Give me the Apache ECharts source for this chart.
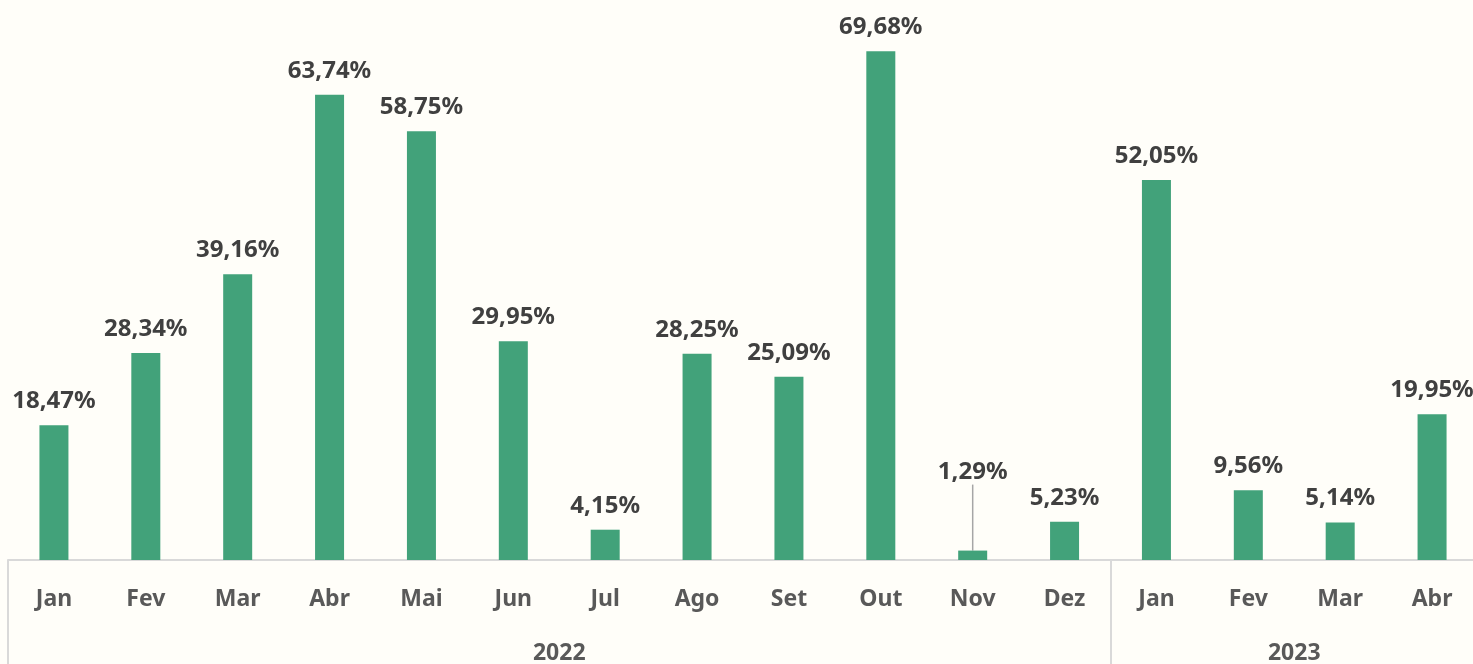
<!DOCTYPE html>
<html>
<head>
<meta charset="utf-8">
<script src="https://cdn.jsdelivr.net/npm/echarts@6/dist/echarts.min.js"></script>
<style>
    html, body { margin: 0; padding: 0; background: #fffef9; }
    #chart { width: 1473px; height: 664px; }
</style>
</head>
<body>
<div id="chart"></div>
<script>
    // meses (2022: Jan..Dez, 2023: Jan..Abr)
    const months = ['Jan', 'Fev', 'Mar', 'Abr', 'Mai', 'Jun', 'Jul', 'Ago', 'Set', 'Out', 'Nov', 'Dez', 'Jan', 'Fev', 'Mar', 'Abr']
    const values = [18.47, 28.34, 39.16, 63.74, 58.75, 29.95, 4.15, 28.25, 25.09, 69.68, 1.29, 5.23, 52.05, 9.56, 5.14, 19.95]
    const years = ['2022', '2023']
    const yearBounds = [0, 12, 16]   // divisórias entre os anos
    const yearCenters = [6, 14]

    const fontFamily = '"Noto Sans", "Open Sans", sans-serif'

    let mychart = echarts.init(document.getElementById('chart'))

    let data = values.map(function (v, i) {
        let item = { value: v }
        if (i === 10) {
            // Nov: rótulo afastado com linha guia
            item.labelLine = { show: true, lineStyle: { color: '#a6a6a6', width: 1.5 } }
        }
        return item
    })

    let option = {
        backgroundColor: '#fffef9',
        color: ['#42a27a'],
        grid: {
            top: 49,
            left: 8,
            width: 1470,
            bottom: 104,
            containLabel: false,
            outerBoundsMode: 'none'
        },
        xAxis: [
            {
                type: 'category',
                data: months,
                axisLine: { show: true, lineStyle: { color: '#d9d9d9', width: 2 } },
                axisTick: { show: false },
                axisLabel: {
                    margin: 28,
                    color: '#595959',
                    fontSize: 23,
                    fontWeight: 'bold',
                    fontFamily: fontFamily
                }
            },
            {
                type: 'value',
                min: 0,
                max: 16,
                position: 'bottom',
                axisLine: { show: false },
                splitLine: { show: false },
                axisTick: {
                    show: true,
                    customValues: yearBounds,
                    length: 110,
                    lineStyle: { color: '#d9d9d9', width: 2 }
                },
                axisLabel: {
                    customValues: yearCenters,
                    margin: 82,
                    color: '#595959',
                    fontSize: 23,
                    fontWeight: 'bold',
                    fontFamily: fontFamily,
                    formatter: function (v) {
                        return years[yearCenters.indexOf(v)]
                    }
                }
            }
        ],
        yAxis: {
            type: 'value',
            min: 0,
            max: 70,
            show: false,
            splitLine: { show: false }
        },
        series: [
            {
                type: 'bar',
                xAxisIndex: 0,
                barWidth: 29,
                data: data,
                label: {
                    show: true,
                    position: 'top',
                    distance: 12,
                    color: '#404040',
                    fontSize: 24,
                    fontWeight: 'bold',
                    fontFamily: fontFamily,
                    formatter: function (p) {
                        return p.value.toFixed(2).replace('.', ',') + '%'
                    }
                },
                labelLayout: function (params) {
                    if (params.dataIndex === 10) {
                        return { dy: -54 }
                    }
                }
            }
        ]
    };

    mychart.setOption(option)
</script>
</body>
</html>
